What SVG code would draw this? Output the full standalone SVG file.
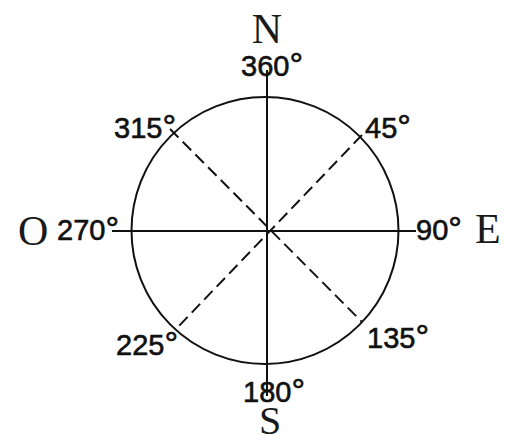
<svg xmlns="http://www.w3.org/2000/svg" width="506" height="443" viewBox="0 0 506 443">
<style>
.ln{stroke:#111;stroke-width:2;fill:none}
.ds{stroke:#111;stroke-width:2;fill:none;stroke-dasharray:12 6}
.num{font-family:"Liberation Sans",Arial,sans-serif;font-size:29px;fill:#111;stroke:#111;stroke-width:0.6}
.deg{font-size:34px}
.card{font-family:"Liberation Serif","Times New Roman",serif;font-size:42px;fill:#1a1a1a}
</style>
<rect width="506" height="443" fill="#fff"/>
<g id="connectors">
<circle class="ln" cx="265" cy="230.5" r="133.5"/>
<line class="ln" x1="267" y1="70" x2="267" y2="396"/>
<line class="ln" x1="112" y1="231" x2="416" y2="231"/>
<line class="ds" x1="170" y1="129" x2="362" y2="322"/>
<line class="ds" x1="362" y1="135" x2="177" y2="328"/>
</g>
<g id="N"><text class="card" x="267" y="43" text-anchor="middle">N</text></g>
<g id="S"><text class="card" x="270" y="434" text-anchor="middle" style="font-size:40px">S</text></g>
<g id="O"><text class="card" x="18" y="245">O</text></g>
<g id="E"><text class="card" x="475" y="243">E</text></g>
<g id="d360"><text class="num" x="241" y="76">360<tspan class="deg">°</tspan></text></g>
<g id="d315"><text class="num" x="114" y="138">315<tspan class="deg">°</tspan></text></g>
<g id="d45"><text class="num" x="365" y="138">45<tspan class="deg">°</tspan></text></g>
<g id="d270"><text class="num" x="57" y="240">270<tspan class="deg">°</tspan></text></g>
<g id="d90"><text class="num" x="416" y="240">90<tspan class="deg">°</tspan></text></g>
<g id="d225"><text class="num" x="116" y="355">225<tspan class="deg">°</tspan></text></g>
<g id="d135"><text class="num" x="367" y="348">135<tspan class="deg">°</tspan></text></g>
<g id="d180"><text class="num" x="243" y="402">180<tspan class="deg">°</tspan></text></g>
</svg>
